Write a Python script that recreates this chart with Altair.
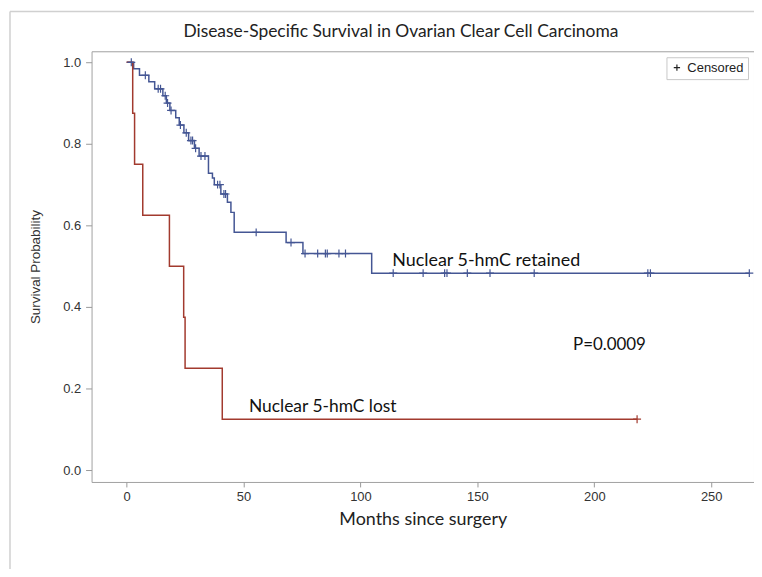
import altair as alt
import pandas as pd

# ---- data ----
blue_t = [0, 3.0, 5.5, 9.5, 12, 15.5, 17, 18.5, 21, 22.5, 24.5, 26.5, 29, 31, 35, 36.7,
          37.5, 40.3, 43.1, 44.6, 46, 68.2, 75.4, 104.8, 266.3]
blue_s = [1.0, 0.984, 0.968, 0.952, 0.935, 0.918, 0.9, 0.882, 0.864, 0.846, 0.827, 0.808,
          0.789, 0.77, 0.728, 0.716, 0.70, 0.677, 0.657, 0.632, 0.583, 0.558, 0.531, 0.483, 0.483]

blue_cens_t = [2.0, 8, 13.5, 14.5, 16.5, 17.5, 19, 23, 25.5, 27.5, 28.2, 29.5, 31.8, 33.5,
               38.9, 39.9, 41.6, 42.3, 55.4, 70.3, 76.3, 81.7, 85.0, 85.8, 90.8, 93.6,
               114, 126.8, 136.0, 137.0, 145.7, 155.4, 174.3, 222.9, 224.0, 266.3]
blue_cens_s = [1.0, 0.968, 0.935, 0.935, 0.918, 0.9, 0.882, 0.846, 0.827, 0.808, 0.808, 0.789,
               0.77, 0.77, 0.70, 0.70, 0.677, 0.677, 0.583, 0.558, 0.531, 0.531, 0.531, 0.531,
               0.531, 0.531, 0.483, 0.483, 0.483, 0.483, 0.483, 0.483, 0.483, 0.483, 0.483, 0.483]

red_t = [0, 2.6, 3.4, 6.9, 18.3, 24.4, 25.0, 40.9, 218.3]
red_s = [1.0, 0.875, 0.75, 0.625, 0.5, 0.375, 0.25, 0.125, 0.125]
red_cens_t = [218.3]
red_cens_s = [0.125]

groups = ["Nuclear 5-hmC retained", "Nuclear 5-hmC lost"]
colors = ["#445694", "#A23A2E"]

ann_text = ["Nuclear 5-hmC retained", "Nuclear 5-hmC lost", "P=0.0009"]
ann_x = [113.6, 52.3, 190.9]
ann_y = [0.512, 0.154, 0.307]
ann_size = [18, 17.5, 17]

title_text = "Disease-Specific Survival in Ovarian Clear Cell Carcinoma"

x_ticks = [0, 50, 100, 150, 200, 250]
y_ticks = [0.0, 0.2, 0.4, 0.6, 0.8, 1.0]

# ---- tables ----
curves = pd.concat([
    pd.DataFrame({"t": blue_t, "s": blue_s, "g": groups[0]}),
    pd.DataFrame({"t": red_t, "s": red_s, "g": groups[1]}),
])
cens = pd.concat([
    pd.DataFrame({"t": blue_cens_t, "s": blue_cens_s, "g": groups[0]}),
    pd.DataFrame({"t": red_cens_t, "s": red_cens_s, "g": groups[1]}),
])
cens["lab"] = "Censored"
ann = pd.DataFrame({"x": ann_x, "y": ann_y, "txt": ann_text, "fs": ann_size})

xs = alt.Scale(domain=[-15, 268.3], nice=False, zero=False)
ys = alt.Scale(domain=[-0.029, 1.027], nice=False, zero=False)
cs = alt.Scale(domain=groups, range=colors)

xax = alt.Axis(values=x_ticks, title="Months since surgery", grid=False, domain=False,
               tickSize=5, tickColor="#999", labelFont="Liberation Sans", labelFontSize=13,
               labelColor="#333", labelPadding=4, titleFont="Lato", titleFontSize=18,
               titleFontWeight="normal", titleColor="#222", titlePadding=7)
yax = alt.Axis(values=y_ticks, format=".1f", title="Survival Probability", grid=False,
               domain=False, tickSize=6, tickColor="#999", labelFont="Liberation Sans",
               labelFontSize=13, labelColor="#333", labelPadding=5,
               titleFont="Liberation Sans", titleFontSize=13.5, titleFontWeight="normal",
               titleColor="#333", titlePadding=20)

base = alt.Chart(pd.DataFrame({"a": [0]}))
frame_top = base.mark_rule(color="#d0d0d0", strokeWidth=1.5).encode(
    x=alt.value(-82), x2=alt.value(800), y=alt.value(-40))
frame_left = base.mark_rule(color="#d0d0d0", strokeWidth=1.5).encode(
    x=alt.value(-82), y=alt.value(-40), y2=alt.value(700))
title = base.mark_text(align="center", baseline="middle", font="Lato", fontSize=17.5,
                       color="#222", text=title_text).encode(
    x=alt.value(311), y=alt.value(-19))

lines = alt.Chart(curves).mark_line(interpolate="step-after", strokeWidth=1.5).encode(
    x=alt.X("t:Q", scale=xs, axis=xax),
    y=alt.Y("s:Q", scale=ys, axis=yax),
    color=alt.Color("g:N", scale=cs, legend=None),
)

plus = "M-1,0L1,0M0,-1L0,1"
marks = alt.Chart(cens).mark_point(filled=False, strokeWidth=1.2, size=64, opacity=1).encode(
    x=alt.X("t:Q", scale=xs),
    y=alt.Y("s:Q", scale=ys),
    color=alt.Color("g:N", scale=cs, legend=None),
    shape=alt.Shape("lab:N", scale=alt.Scale(domain=["Censored"], range=[plus]),
                    legend=alt.Legend(title=None, orient="none", legendX=578, legendY=6,
                                      strokeColor="#c8c8c8", padding=4,
                                      labelFont="Liberation Sans", labelFontSize=13,
                                      labelColor="#222", labelOffset=4,
                                      symbolStrokeColor="#222", symbolFillColor="transparent",
                                      symbolSize=40, symbolStrokeWidth=1.2)),
)

texts = alt.Chart(ann).mark_text(align="left", baseline="middle", font="Lato",
                                 color="#111").encode(
    x=alt.X("x:Q", scale=xs), y=alt.Y("y:Q", scale=ys), text="txt:N",
    size=alt.Size("fs:Q", scale=None, legend=None))

chart = alt.layer(frame_top, frame_left, title, lines, marks, texts).properties(
    width=666, height=433,
    padding={"left": 84, "top": 42, "right": 0, "bottom": 86},
    autosize=alt.AutoSizeParams(type="none"),
).configure_view(stroke="#a0a0a0", strokeWidth=1)

chart.save("out.html", embed_options={"renderer": "svg", "actions": False})
